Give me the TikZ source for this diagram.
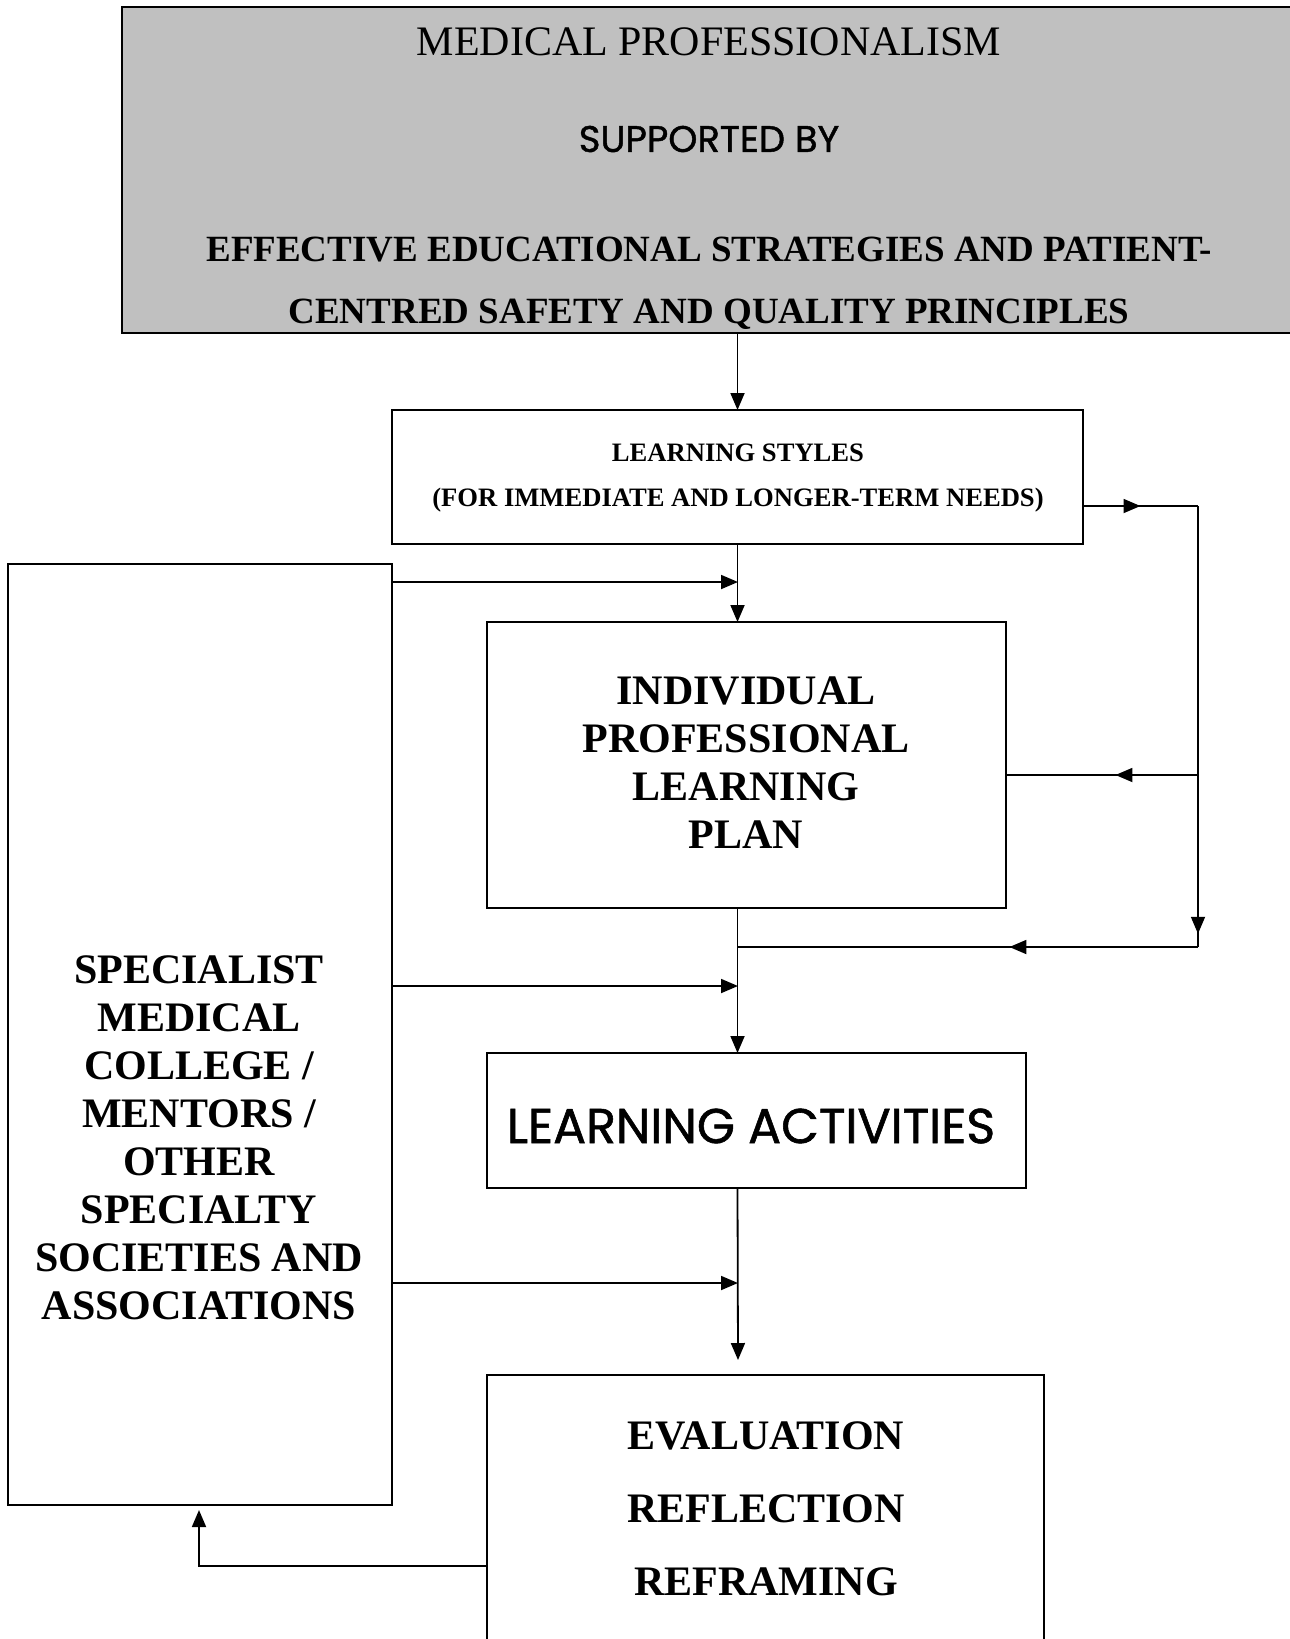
\documentclass[tikz,border=0pt]{standalone}
\usepackage{fontspec}
\setmainfont{Liberation Serif}
\newfontfamily\geosans[FakeBold=1.2]{Poppins}
\usetikzlibrary{arrows.meta,decorations.markings}
\definecolor{topgray}{HTML}{C0C0C0}
\tikzset{
  box/.style={draw, line width=1.8pt, inner sep=0pt, outer sep=0pt, anchor=north west},
  conn/.style={line width=1.8pt},
  arr/.style={conn, -{Triangle[length=17pt,width=14pt]}},
  midarr/.style={postaction={decorate, decoration={markings,
      mark=at position #1 with {\arrow{Triangle[length=17pt,width=14pt]}}}}},
  bigtxt/.style={font=\fontsize{42}{48}\selectfont\bfseries, align=center, inner sep=0pt},
}
\begin{document}
\begin{tikzpicture}[x=1pt,y=-1pt]
\useasboundingbox (0,0) rectangle (1290,1639);
% boxes
\node[box, fill=topgray, minimum width=1172pt, minimum height=326pt] (top) at (122,7) {};
\node[box, minimum width=691pt, minimum height=134pt] (ls) at (392,410) {};
\node[box, minimum width=519pt, minimum height=286pt] (iplp) at (487,622) {};
\node[box, minimum width=384pt, minimum height=941pt] (spec) at (8,564) {};
\node[box, minimum width=539pt, minimum height=135pt] (la) at (487,1053) {};
\node[box, minimum width=557pt, minimum height=330pt] (ev) at (487,1375) {};
% texts
\node[inner sep=0pt, font=\fontsize{42}{48}\selectfont] (t1) at (709,42) {MEDICAL PROFESSIONALISM};
\node[inner sep=0pt, font=\geosans\fontsize{37}{40}\selectfont] (t2) at (709,139) {SUPPORTED BY};
\node[inner sep=0pt, font=\fontsize{37}{40}\selectfont\bfseries] (t3) at (709,250) {EFFECTIVE EDUCATIONAL STRATEGIES AND PATIENT-};
\node[inner sep=0pt, font=\fontsize{37}{40}\selectfont\bfseries] (t4) at (709,314) {CENTRED SAFETY AND QUALITY PRINCIPLES};
\node[inner sep=0pt, font=\fontsize{26.6}{30}\selectfont\bfseries] (ls1) at (738,453) {LEARNING STYLES};
\node[inner sep=0pt, font=\fontsize{26.6}{30}\selectfont\bfseries] (ls2) at (738,500) {(FOR IMMEDIATE AND LONGER-TERM NEEDS)};
\node[bigtxt] (iplpt) at (746,763) {INDIVIDUAL\\PROFESSIONAL\\LEARNING\\PLAN};
\node[bigtxt] (spect) at (199,1138) {SPECIALIST\\MEDICAL\\COLLEGE /\\MENTORS /\\OTHER\\SPECIALTY\\SOCIETIES AND\\ASSOCIATIONS};
\node[inner sep=0pt, font=\geosans\fontsize{49}{54}\selectfont] (lat) at (751,1126) {LEARNING ACTIVITIES};
\node[bigtxt, font=\fontsize{42}{73}\selectfont\bfseries] (evt) at (766,1509) {EVALUATION\\REFLECTION\\REFRAMING};
% coordinates
\coordinate (c1) at (738,582);
\coordinate (c2) at (738,947);
\coordinate (c3) at (738,986);
\coordinate (c4) at (738,1283);
\coordinate (c5) at (738,1360);
\coordinate (r1) at (1198,506);
\coordinate (r2) at (1198,775);
\coordinate (r3) at (1198,947);
\coordinate (f1) at (199,1566);
\coordinate (f2) at (199,1510);
% connectors
\draw[arr] (top.south -| ls.north) -- (ls.north);
\draw[arr] (ls.south) -- (ls.south |- iplp.north);
\draw[arr] (spec.east |- c1) -- (c1);
\draw[arr] (iplp.south -| ls.south) -- (la.north -| ls.south);
\draw[arr] (spec.east |- c3) -- (c3);
\draw[arr] (spec.east |- c4) -- (c4);
\draw[arr] (la.south -| ls.south) -- (c5);
\draw[conn, midarr=0.5] (ls.east |- r1) -- (r1);
\draw[conn, midarr=0.97] (r1) -- (r3);
\draw[conn, midarr=0.41] (r3) -- (c2);
\draw[conn, midarr=0.43] (r2) -- (iplp.east |- r2);
\draw[arr] (ev.west |- f1) -- (f1) -- (f2);
\end{tikzpicture}
\end{document}
